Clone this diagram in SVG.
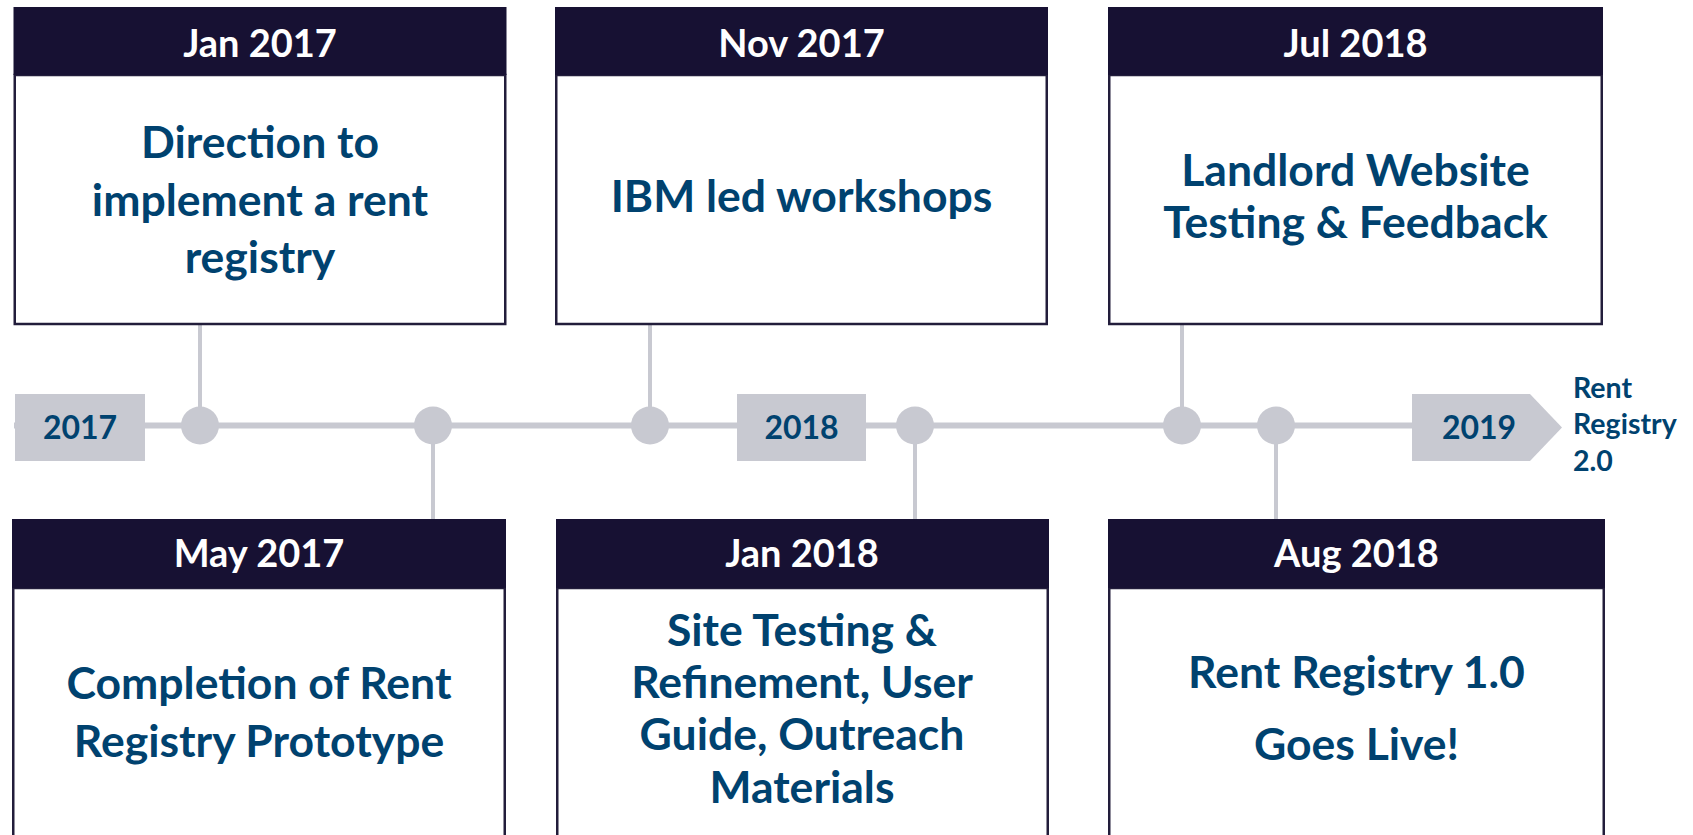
<svg xmlns="http://www.w3.org/2000/svg" width="1693" height="835" viewBox="0 0 1693 835">
<style>
.hdr{fill:#171133}
.body{fill:#ffffff;stroke:#221d3b;stroke-width:2.5}
.ht{font-family:Lato,"Open Sans",sans-serif;font-weight:700;font-size:38px;fill:#ffffff;text-anchor:middle}
.bt{font-family:Lato,"Open Sans",sans-serif;font-weight:700;font-size:44.5px;fill:#00426f;text-anchor:middle}
.yr{fill:#c8c9d1}
.yt{font-family:Lato,"Open Sans",sans-serif;font-weight:700;font-size:32px;fill:#00426f;text-anchor:middle}
.rr{font-family:Lato,"Open Sans",sans-serif;font-weight:700;font-size:28.5px;fill:#00426f}
.ln{stroke:#c8c9d1;fill:none}
.dot{fill:#c8c9d1}
</style>
<rect width="1693" height="835" fill="#ffffff"/>
<g id="connectors">
<line class="ln" x1="14" y1="425.5" x2="1415" y2="425.5" stroke-width="6"/>
<line class="ln" x1="200" y1="325" x2="200" y2="425" stroke-width="4"/>
<line class="ln" x1="433" y1="425" x2="433" y2="519" stroke-width="4"/>
<line class="ln" x1="650" y1="325" x2="650" y2="425" stroke-width="4"/>
<line class="ln" x1="915" y1="425" x2="915" y2="519" stroke-width="4"/>
<line class="ln" x1="1182" y1="325" x2="1182" y2="425" stroke-width="4"/>
<line class="ln" x1="1276" y1="425" x2="1276" y2="519" stroke-width="4"/>
<circle class="dot" cx="200" cy="425.5" r="19"/>
<circle class="dot" cx="433" cy="425.5" r="19"/>
<circle class="dot" cx="650" cy="425.5" r="19"/>
<circle class="dot" cx="915" cy="425.5" r="19"/>
<circle class="dot" cx="1182" cy="425.5" r="19"/>
<circle class="dot" cx="1276" cy="425.5" r="19"/>
</g>
<g id="year-2017">
<rect class="yr" x="15" y="394" width="130" height="67"/>
<text class="yt" x="80" y="439">2017</text>
</g>
<g id="year-2018">
<rect class="yr" x="737" y="394" width="129" height="67"/>
<text class="yt" x="801.5" y="439">2018</text>
</g>
<g id="year-2019">
<polygon class="yr" points="1412,394 1530,394 1562,427.5 1530,461 1412,461"/>
<text class="yt" x="1479" y="439">2019</text>
<text class="rr" x="1573" y="398">Rent</text>
<text class="rr" x="1573" y="434">Registry</text>
<text class="rr" x="1573" y="471">2.0</text>
</g>
<g id="event-jan-2017">
<rect class="body" x="14.75" y="75" width="490.5" height="249"/>
<rect class="hdr" x="13.5" y="7" width="493" height="68"/>
<text class="ht" x="260" y="57">Jan 2017</text>
<text class="bt" x="260" y="158">Direction to</text>
<text class="bt" x="260" y="216">implement a rent</text>
<text class="bt" x="260" y="273">registry</text>
</g>
<g id="event-nov-2017">
<rect class="body" x="556.25" y="75" width="490.5" height="249"/>
<rect class="hdr" x="555" y="7" width="493" height="68"/>
<text class="ht" x="801.5" y="57">Nov 2017</text>
<text class="bt" x="801.5" y="212">IBM led workshops</text>
</g>
<g id="event-jul-2018">
<rect class="body" x="1109.25" y="75" width="492.5" height="249"/>
<rect class="hdr" x="1108" y="7" width="495" height="68"/>
<text class="ht" x="1355.5" y="57">Jul 2018</text>
<text class="bt" x="1355.5" y="186">Landlord Website</text>
<text class="bt" x="1355.5" y="238">Testing &amp; Feedback</text>
</g>
<g id="event-may-2017">
<rect class="body" x="13.25" y="588" width="491.5" height="260"/>
<rect class="hdr" x="12" y="519" width="494" height="69"/>
<text class="ht" x="259" y="567">May 2017</text>
<text class="bt" x="259" y="699">Completion of Rent</text>
<text class="bt" x="259" y="757">Registry Prototype</text>
</g>
<g id="event-jan-2018">
<rect class="body" x="557.25" y="588" width="490.5" height="260"/>
<rect class="hdr" x="556" y="519" width="493" height="69"/>
<text class="ht" x="802" y="567">Jan 2018</text>
<text class="bt" x="802" y="646">Site Testing &amp;</text>
<text class="bt" x="802" y="698">Refinement, User</text>
<text class="bt" x="802" y="750">Guide, Outreach</text>
<text class="bt" x="802" y="803">Materials</text>
</g>
<g id="event-aug-2018">
<rect class="body" x="1109.25" y="588" width="494.5" height="260"/>
<rect class="hdr" x="1108" y="519" width="497" height="69"/>
<text class="ht" x="1356.5" y="567">Aug 2018</text>
<text class="bt" x="1356.5" y="688">Rent Registry 1.0</text>
<text class="bt" x="1356.5" y="760">Goes Live!</text>
</g>
</svg>
